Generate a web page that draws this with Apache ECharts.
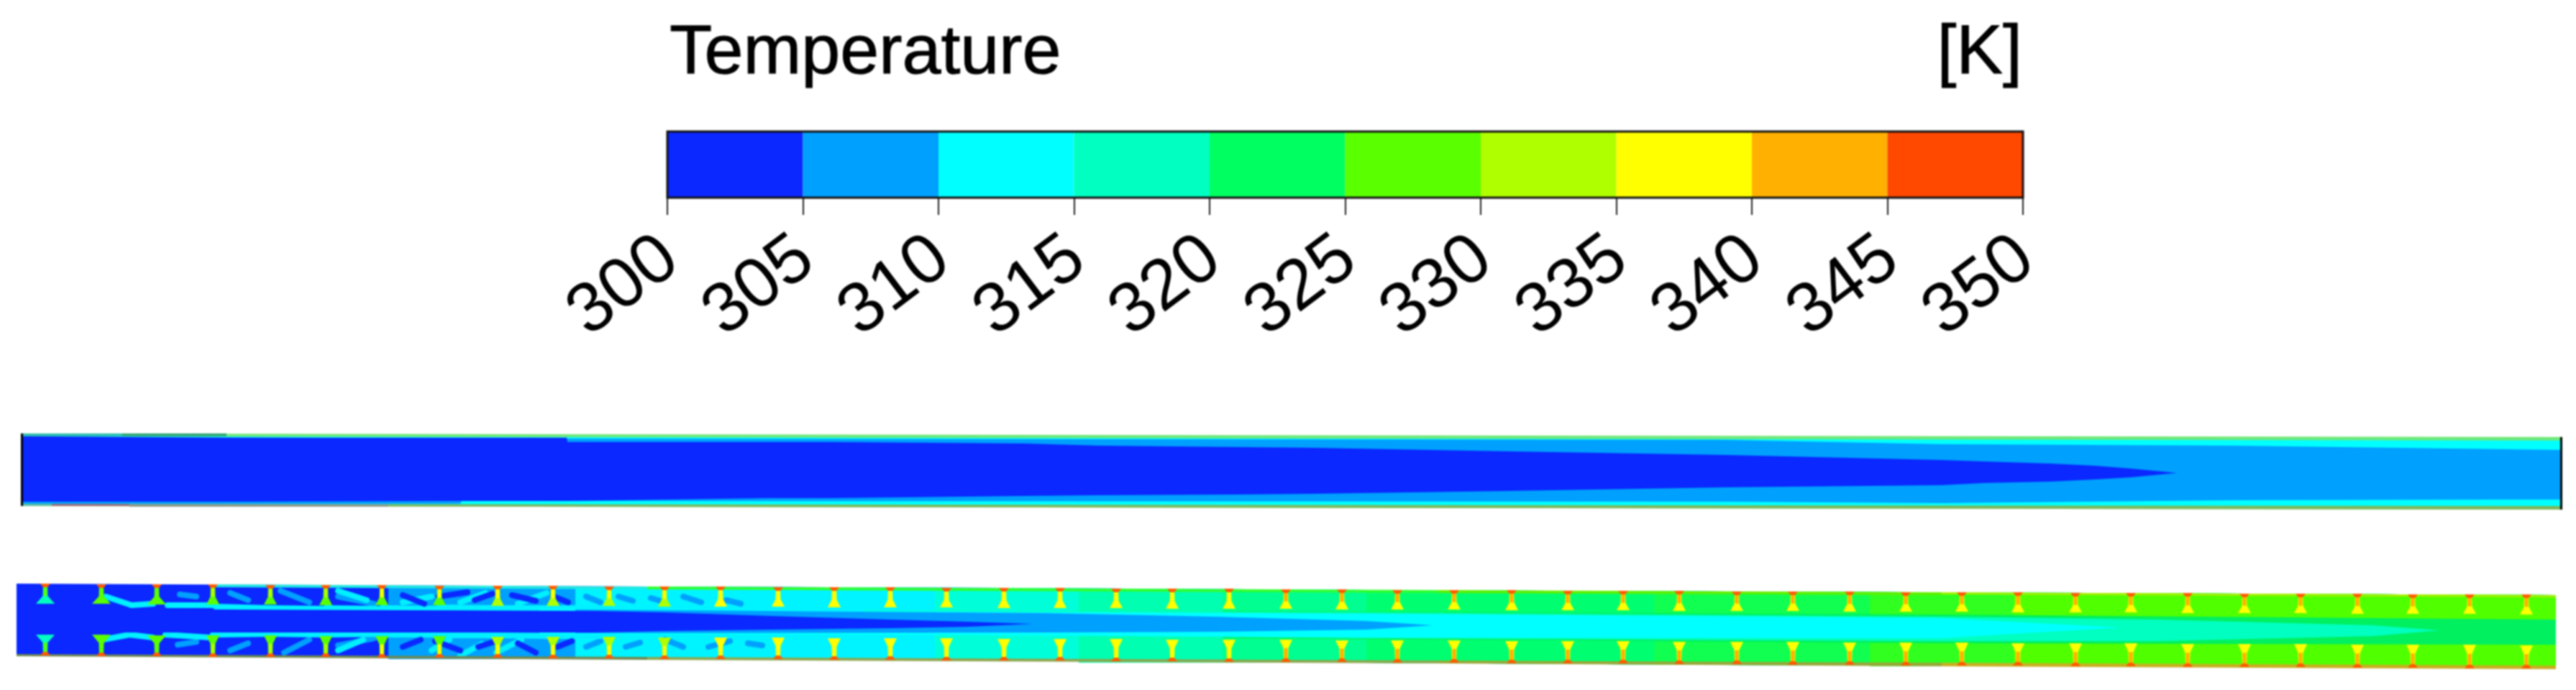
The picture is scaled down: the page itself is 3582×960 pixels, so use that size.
<html>
<head>
    <meta charset="utf-8">
    <title>Temperature</title>
    <script src="https://cdn.jsdelivr.net/npm/echarts@6/dist/echarts.min.js"></script>
    <style>
        html, body { margin: 0; background: #fff; }
        #main { width: 3582px; height: 960px; filter: blur(0.9px); }
    </style>
</head>
<body>
<div id="main"></div>
<script>
    // colour bar
    var tempEdges = [300, 305, 310, 315, 320, 325, 330, 335, 340, 345, 350];
    var binColors = ['#0a28ff', '#00a0ff', '#00ffff', '#00ffc0', '#00ff60', '#5aff00', '#b0ff00', '#ffff00', '#ffb000', '#ff4800'];

    // plain channel: x along the channel, y across it
    var plainOuterX = [30, 3562];
    var plainOuterUp = [13, 18];
    var plainOuterLo = [114, 119];
    var plainCyanX = [30, 3562];
    var plainCyanUp = [17, 23];
    var plainCyanLo = [111, 114];
    var plainLightX = [30, 640, 642, 2400, 2700, 3105, 3487, 3562];
    var plainLightUp = [17, 20, 20, 22, 28, 30, 35, 36];
    var plainLightLo = [111, 111, 107, 108, 110, 106, 105, 105];
    var plainCoreX = [30, 315, 640, 788, 789, 1066, 1155, 1423, 1528, 1720, 1825, 2100, 2400, 2700, 2759, 2852, 2914, 2964, 3027];
    var plainCoreUp = [17, 19, 19, 19, 25, 25, 25, 27, 30, 32, 33, 38, 43, 50, 52, 55, 58, 62, 68];
    var plainCoreLo = [108, 108, 107, 107, 107, 103, 103, 100, 99, 98, 97, 93, 88, 85, 82, 80, 77, 74, 68];

    // finned channel: walls
    var wallX = [23, 450, 900, 1400, 1900, 2400, 2900, 3554];
    var wallUp = [12, 14, 16, 18, 21, 23, 25, 28];
    var wallLo = [112, 114, 117, 119, 122, 125, 127, 130];

    // where each temperature takes over between the fins
    var sideFronts = [23, 540, 800, 1300, 1500, 1700, 1900, 2300, 2600, 2800];
    var sideColors = ['#0a28ff', '#00a0ff', '#00f4ff', '#00ffd8', '#00ffb0', '#00ff90', '#00ff70', '#10ff50', '#30ff20', '#50ff00'];

    // core of the finned channel
    var coreGreenX = [1700, 2700, 3554];
    var coreGreenUp = [50, 55, 62];
    var coreGreenLo = [88, 95, 97];
    var coreTealX = [1200, 1900, 2700, 3000, 3300, 3392];
    var coreTealUp = [49, 52, 58, 62, 70, 77];
    var coreTealLo = [82, 88, 92, 92, 85, 77];
    var coreCyanX = [750, 1200, 1900, 2700, 2950];
    var coreCyanUp = [47, 50, 54, 60, 73];
    var coreCyanLo = [82, 83, 87, 88, 73];
    var coreLightX = [800, 1455, 1690, 1900, 1992];
    var coreLightUp = [48, 53, 58, 64, 70];
    var coreLightLo = [81, 80, 79, 76, 70];
    var coreBlueX = [23, 827, 924, 1072, 1238, 1346, 1436];
    var coreBlueUp = [47, 50, 52, 57, 62, 65, 68];
    var coreBlueLo = [80, 80, 78, 76, 74, 72, 68];

    // fins
    var finX = [63, 141, 218, 296, 376, 453, 531, 611, 692, 769, 847, 924, 1002, 1082, 1160, 1238, 1316, 1396, 1474, 1552, 1630, 1709, 1788, 1866, 1943, 2022, 2102, 2180, 2257, 2335, 2415, 2493, 2572, 2650, 2728, 2806, 2886, 2963, 3042, 3121, 3199, 3278, 3355, 3434, 3513];
    var finWallTop = [12, 13, 13, 13, 14, 14, 14, 15, 15, 15, 16, 16, 16, 17, 17, 17, 18, 18, 18, 19, 19, 19, 20, 20, 21, 21, 21, 22, 22, 22, 23, 23, 23, 24, 24, 24, 25, 25, 25, 26, 26, 26, 27, 27, 27];
    var finTipTop = [40, 40, 41, 41, 41, 42, 42, 42, 43, 43, 43, 44, 44, 44, 45, 45, 45, 46, 46, 46, 47, 47, 47, 48, 48, 48, 49, 49, 49, 50, 50, 50, 51, 51, 51, 52, 52, 52, 53, 53, 53, 54, 54, 54, 55];
    var finTipBottom = [83, 83, 84, 84, 84, 85, 85, 85, 86, 86, 86, 87, 87, 87, 88, 88, 88, 89, 89, 89, 90, 90, 90, 91, 91, 91, 92, 92, 92, 93, 93, 93, 94, 94, 94, 95, 95, 95, 96, 96, 96, 97, 97, 97, 98];
    var finWallBottom = [112, 113, 113, 114, 114, 114, 115, 115, 115, 116, 116, 117, 117, 117, 118, 118, 119, 119, 119, 120, 120, 121, 121, 121, 122, 122, 123, 123, 123, 124, 124, 125, 125, 126, 126, 126, 127, 127, 128, 128, 128, 129, 129, 130, 130];
    var finTipTemp = [317, 327, 327, 327, 327, 327, 328, 328, 331, 331, 332, 333, 336, 336, 336, 336, 336, 337, 337, 337, 337, 337, 337, 337, 337, 337, 337, 337, 337, 337, 337, 337, 337, 337, 338, 338, 338, 338, 338, 338, 338, 338, 338, 338, 338];
    var finStemTemp = [327, 327, 327, 331, 331, 332, 336, 336, 336, 337, 337, 337, 337, 337, 337, 337, 337, 337, 337, 337, 337, 337, 341, 341, 341, 341, 341, 341, 341, 341, 341, 341, 341, 341, 342, 342, 342, 342, 342, 342, 342, 342, 342, 342, 342];

    // eddies between the fins, start and end of each streak
    var eddiesCyan = [[147, 30, 183, 42], [183, 42, 213, 40], [233, 42, 300, 42], [300, 44, 376, 46], [376, 46, 453, 47], [453, 46, 531, 47], [531, 46, 611, 47], [611, 45, 692, 46], [692, 46, 769, 46], [769, 46, 847, 46],
        [470, 22, 510, 35], [560, 38, 600, 30], [640, 38, 675, 25], [720, 40, 760, 25],
        [143, 90, 180, 83], [180, 83, 213, 87], [230, 83, 293, 87], [296, 83, 376, 82], [376, 82, 453, 83], [453, 83, 531, 82], [531, 83, 611, 83], [611, 84, 692, 84], [692, 84, 769, 85], [769, 85, 847, 85],
        [470, 105, 505, 90], [600, 105, 625, 90], [690, 108, 725, 90], [640, 112, 670, 96]];
    var eddiesLight = [[250, 27, 273, 30], [320, 25, 345, 35], [390, 22, 430, 38], [470, 30, 520, 40], [247, 97, 273, 93], [320, 105, 345, 95], [395, 108, 430, 90], [470, 98, 520, 88],
        [815, 30, 835, 38], [860, 30, 880, 36], [905, 32, 925, 38], [950, 30, 975, 38], [1010, 35, 1030, 40],
        [815, 100, 835, 92], [870, 100, 890, 94], [925, 90, 950, 100], [985, 100, 1015, 92], [1040, 95, 1060, 98]];
    var eddiesBlue = [[560, 28, 590, 40], [610, 30, 650, 24], [660, 35, 685, 26], [712, 28, 745, 36], [770, 30, 790, 38],
        [560, 100, 585, 90], [605, 92, 640, 105], [665, 100, 690, 92], [720, 95, 745, 108], [775, 100, 795, 92]];

    var myChart = echarts.init(document.getElementById('main'));

    function binColor(t) {
        for (var i = 0; i < binColors.length; i++) {
            if (t < tempEdges[i + 1]) return binColors[i];
        }
        return binColors[binColors.length - 1];
    }

    // filled region between an upper and a lower edge
    function band(gridIndex, xs, ups, los, color) {
        return {
            type: 'custom', xAxisIndex: gridIndex, yAxisIndex: gridIndex, silent: true, clip: true,
            data: [xs[0]],
            renderItem: function (params, api) {
                var pts = [];
                for (var i = 0; i < xs.length; i++) pts.push(api.coord([xs[i], ups[i]]));
                for (var j = xs.length - 1; j >= 0; j--) pts.push(api.coord([xs[j], los[j]]));
                return { type: 'polygon', shape: { points: pts }, style: { fill: color } };
            }
        };
    }

    function streaks(list, color) {
        return {
            type: 'custom', xAxisIndex: 2, yAxisIndex: 2, silent: true,
            data: list,
            renderItem: function (params, api) {
                var a = api.coord([api.value(0), api.value(1)]);
                var b = api.coord([api.value(2), api.value(3)]);
                return {
                    type: 'line', shape: { x1: a[0], y1: a[1], x2: b[0], y2: b[1] },
                    style: { stroke: color, lineWidth: 8, lineCap: 'round' }
                };
            }
        };
    }

    function fins(wall, tip) {
        return {
            type: 'custom', xAxisIndex: 2, yAxisIndex: 2, silent: true,
            data: finX.map(function (x, i) { return [x, wall[i], tip[i], finTipTemp[i], finStemTemp[i]]; }),
            renderItem: function (params, api) {
                var x = api.value(0), w = api.value(1), t = api.value(2);
                var m = w + (t - w) * 0.62;
                var half = params.dataIndex < 3 ? 13 : 9;
                function p(a, b) { return api.coord([a, b]); }
                return {
                    type: 'group',
                    children: [
                        { type: 'polygon', shape: { points: [p(x - 3, w), p(x + 3, w), p(x + 3.5, m), p(x + half, t), p(x - half, t), p(x - 3.5, m)] }, style: { fill: binColor(api.value(3)) } },
                        { type: 'polygon', shape: { points: [p(x - 2.5, w), p(x + 2.5, w), p(x + 2.5, m), p(x - 2.5, m)] }, style: { fill: binColor(api.value(4)) } },
                        { type: 'polygon', shape: { points: [p(x - 7, w), p(x + 7, w), p(x + 3, w + (t > w ? 5 : -5)), p(x - 3, w + (t > w ? 5 : -5))] }, style: { fill: '#ff5a00' } }
                    ]
                };
            }
        };
    }

    var series = [];

    // colour bar cells and frame
    series.push({
        type: 'custom', xAxisIndex: 0, yAxisIndex: 0, silent: true,
        data: binColors.map(function (c, i) { return [tempEdges[i], tempEdges[i + 1]]; }),
        renderItem: function (params, api) {
            var a = api.coord([api.value(0), 1]);
            var b = api.coord([api.value(1), 0]);
            return {
                type: 'rect', shape: { x: a[0], y: a[1], width: b[0] - a[0], height: b[1] - a[1] },
                style: { fill: binColors[params.dataIndex] }
            };
        }
    });
    series.push({
        type: 'custom', xAxisIndex: 0, yAxisIndex: 0, silent: true,
        data: [[tempEdges[0], tempEdges[tempEdges.length - 1]]],
        renderItem: function (params, api) {
            var a = api.coord([api.value(0), 1]);
            var b = api.coord([api.value(1), 0]);
            return {
                type: 'rect', shape: { x: a[0], y: a[1], width: b[0] - a[0], height: b[1] - a[1] },
                style: { fill: 'none', stroke: '#111', lineWidth: 3 }
            };
        }
    });

    // plain channel
    series.push(band(1, plainOuterX, plainOuterUp, plainOuterLo, '#6fe87a'));
    series.push(band(1, [30, 3562], [108, 113], plainOuterLo, '#7db85c'));
    series.push(band(1, [30, 72], [110, 110], [114, 114], '#60c0a0'));
    series.push(band(1, [72, 180], [110, 110], [114, 114], '#a06a78'));
    series.push(band(1, [180, 540], [110, 110], [115, 115], '#8c9a88'));
    series.push(band(1, [30, 170], [13, 13], [17, 17], '#30c0b0'));
    series.push(band(1, [170, 315], [13, 13], [17, 17], '#30a878'));
    series.push(band(1, plainCyanX, plainCyanUp, plainCyanLo, binColors[2]));
    series.push(band(1, plainLightX, plainLightUp, plainLightLo, binColors[1]));
    series.push(band(1, plainCoreX, plainCoreUp, plainCoreLo, binColors[0]));
    series.push(band(1, [29, 32], [13, 13], [114, 114], '#000'));
    series.push(band(1, [3560, 3563], [18, 18], [119, 119], '#000'));

    // finned channel, coldest at the inlet
    function wallAt(list, x) {
        var k = wallX.findIndex(function (w) { return w >= x; });
        return list[k];
    }
    sideFronts.forEach(function (x0, i) {
        var xs = [x0].concat(wallX.filter(function (x) { return x > x0; }));
        series.push(band(2, xs,
            xs.map(function (x) { return wallAt(wallUp, x); }),
            xs.map(function (x) { return wallAt(wallLo, x); }),
            sideColors[i]));
    });
    series.push(streaks(eddiesLight, binColors[1]));
    series.push(streaks(eddiesCyan, '#00f0ff'));
    series.push(streaks(eddiesBlue, binColors[0]));
    series.push(band(2, coreGreenX, coreGreenUp, coreGreenLo, '#00f060'));
    series.push(band(2, coreTealX, coreTealUp, coreTealLo, '#00ffc0'));
    series.push(band(2, coreCyanX, coreCyanUp, coreCyanLo, binColors[2]));
    series.push(band(2, coreLightX, coreLightUp, coreLightLo, binColors[1]));
    series.push(band(2, coreBlueX, coreBlueUp, coreBlueLo, binColors[0]));

    // thin wall layers
    series.push(band(2, [300, 900], [13, 16], [17, 20], '#20e8e0'));
    series.push(band(2, [900, 2000], [16, 21], [20, 25], '#30ff30'));
    series.push(band(2, [2000, 2700], [21, 24], [25, 28], '#60f000'));
    series.push(band(2, [2700, 3554], [24, 28], [27, 31], '#a8f000'));
    series.push(band(2, [23, 900], [110, 114], [113, 118], '#708a50'));
    series.push(band(2, [900, 2000], [114, 119], [118, 123], '#8ca850'));
    series.push(band(2, [2000, 2700], [119, 122], [123, 127], '#98a838'));
    series.push(band(2, [2700, 3554], [122, 126], [127, 131], '#c8b020'));

    series.push(fins(finWallTop, finTipTop));
    series.push(fins(finWallBottom, finTipBottom));

    var hiddenX = { type: 'value', min: 0, max: 3582, show: false };

    var option = {
        animation: false,
        backgroundColor: '#fff',
        title: [
            { text: 'Temperature', left: 926, top: 22, textStyle: { fontFamily: 'Liberation Sans', fontSize: 97, fontWeight: 'normal', color: '#000', textBorderColor: '#000', textBorderWidth: 1 } },
            { text: '[K]', right: 764, top: 22, textStyle: { fontFamily: 'Liberation Sans', fontSize: 97, fontWeight: 'normal', color: '#000', textBorderColor: '#000', textBorderWidth: 1 } }
        ],
        grid: [
            { left: 928, top: 183, width: 1885, height: 92 },
            { left: 0, top: 590, width: 3582, height: 130 },
            { left: 0, top: 800, width: 3582, height: 150 }
        ],
        xAxis: [
            {
                type: 'value', gridIndex: 0, min: 300, max: 350, interval: 5,
                splitLine: { show: false },
                axisLine: { show: false },
                axisTick: { length: 24, lineStyle: { color: '#222', width: 2 } },
                axisLabel: { rotate: 37, margin: 78, fontSize: 98, color: '#000', fontFamily: 'Liberation Sans', hideOverlap: false, padding: [0, -6, 0, 0] }
            },
            Object.assign({ gridIndex: 1 }, hiddenX),
            Object.assign({ gridIndex: 2 }, hiddenX)
        ],
        yAxis: [
            { type: 'value', gridIndex: 0, min: 0, max: 1, show: false },
            { type: 'value', gridIndex: 1, min: 0, max: 130, inverse: true, show: false },
            { type: 'value', gridIndex: 2, min: 0, max: 150, inverse: true, show: false }
        ],
        series: series
    };

    myChart.setOption(option);
</script>
</body>
</html>
